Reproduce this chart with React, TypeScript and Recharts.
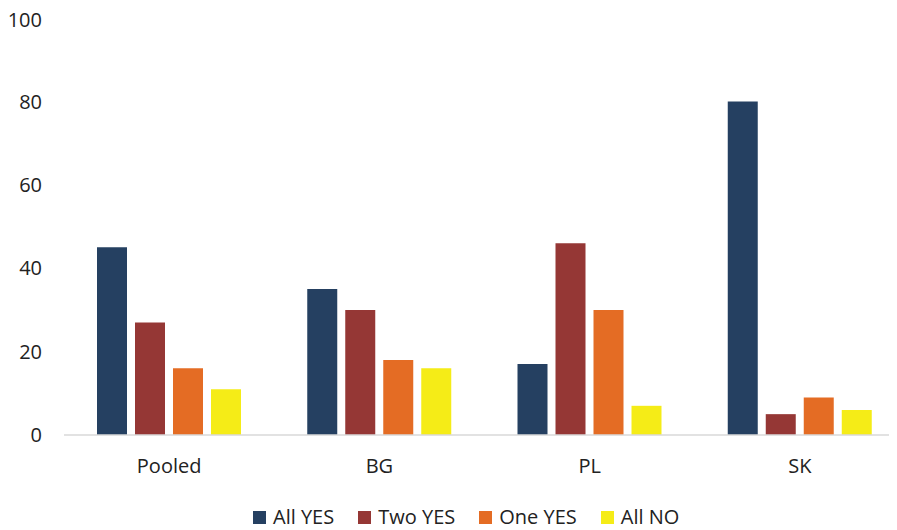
import React from 'react'
import { Bar, BarChart, Legend, XAxis, YAxis } from 'recharts'

const categories = ['Pooled', 'BG', 'PL', 'SK']
const allYes = [45, 35, 17, 80]
const twoYes = [27, 30, 46, 5]
const oneYes = [16, 18, 30, 9]
const allNo = [11, 16, 7, 6]
const yTicks = [0, 20, 40, 60, 80, 100]

const series = [
  { key: 'allYes', name: 'All YES', color: '#254061' },
  { key: 'twoYes', name: 'Two YES', color: '#953735' },
  { key: 'oneYes', name: 'One YES', color: '#E46C24' },
  { key: 'allNo', name: 'All NO', color: '#F5EC17' },
]

const data = categories.map((c, i) => ({
  name: c,
  allYes: allYes[i],
  twoYes: twoYes[i],
  oneYes: oneYes[i],
  allNo: allNo[i],
}))

const font = '"Open Sans", sans-serif'

function ChartLegend() {
  return (
    <div style={{
      display: 'flex', marginLeft: 245, paddingTop: 10, fontFamily: font, fontSize: 20, lineHeight: '24px', color: '#222',
    }}>
      {series.map(s => (
        <div key={s.key} style={{ display: 'flex', alignItems: 'center', marginRight: 24 }}>
          <span style={{ width: 13, height: 13, background: s.color, marginRight: 7, display: 'inline-block' }} />
          <span>{s.name}</span>
        </div>
      ))}
    </div>
  )
}

export default function App() {
  return (
    <BarChart
      width={889}
      height={522}
      data={data}
      barSize={30}
      barGap={8}
      margin={{ top: 10, right: -8, left: 0, bottom: 0 }}
    >
      <XAxis
        dataKey='name'
        height={60}
        tickLine={false}
        tickSize={0}
        tickMargin={24}
        axisLine={{ stroke: '#D9D9D9', strokeWidth: 1.5 }}
        tick={{ fill: '#222', fontSize: 20, fontFamily: font }}
      />
      <YAxis
        width={56}
        domain={[0, 100]}
        ticks={yTicks}
        axisLine={false}
        tickLine={false}
        tickSize={0}
        tickMargin={22}
        tick={{ fill: '#222', fontSize: 20, fontFamily: font }}
      />
      <Legend verticalAlign='bottom' height={35} content={() => <ChartLegend />} />
      {series.map(s => (
        <Bar key={s.key} dataKey={s.key} name={s.name} fill={s.color} isAnimationActive={false} />
      ))}
    </BarChart>
  )
}
